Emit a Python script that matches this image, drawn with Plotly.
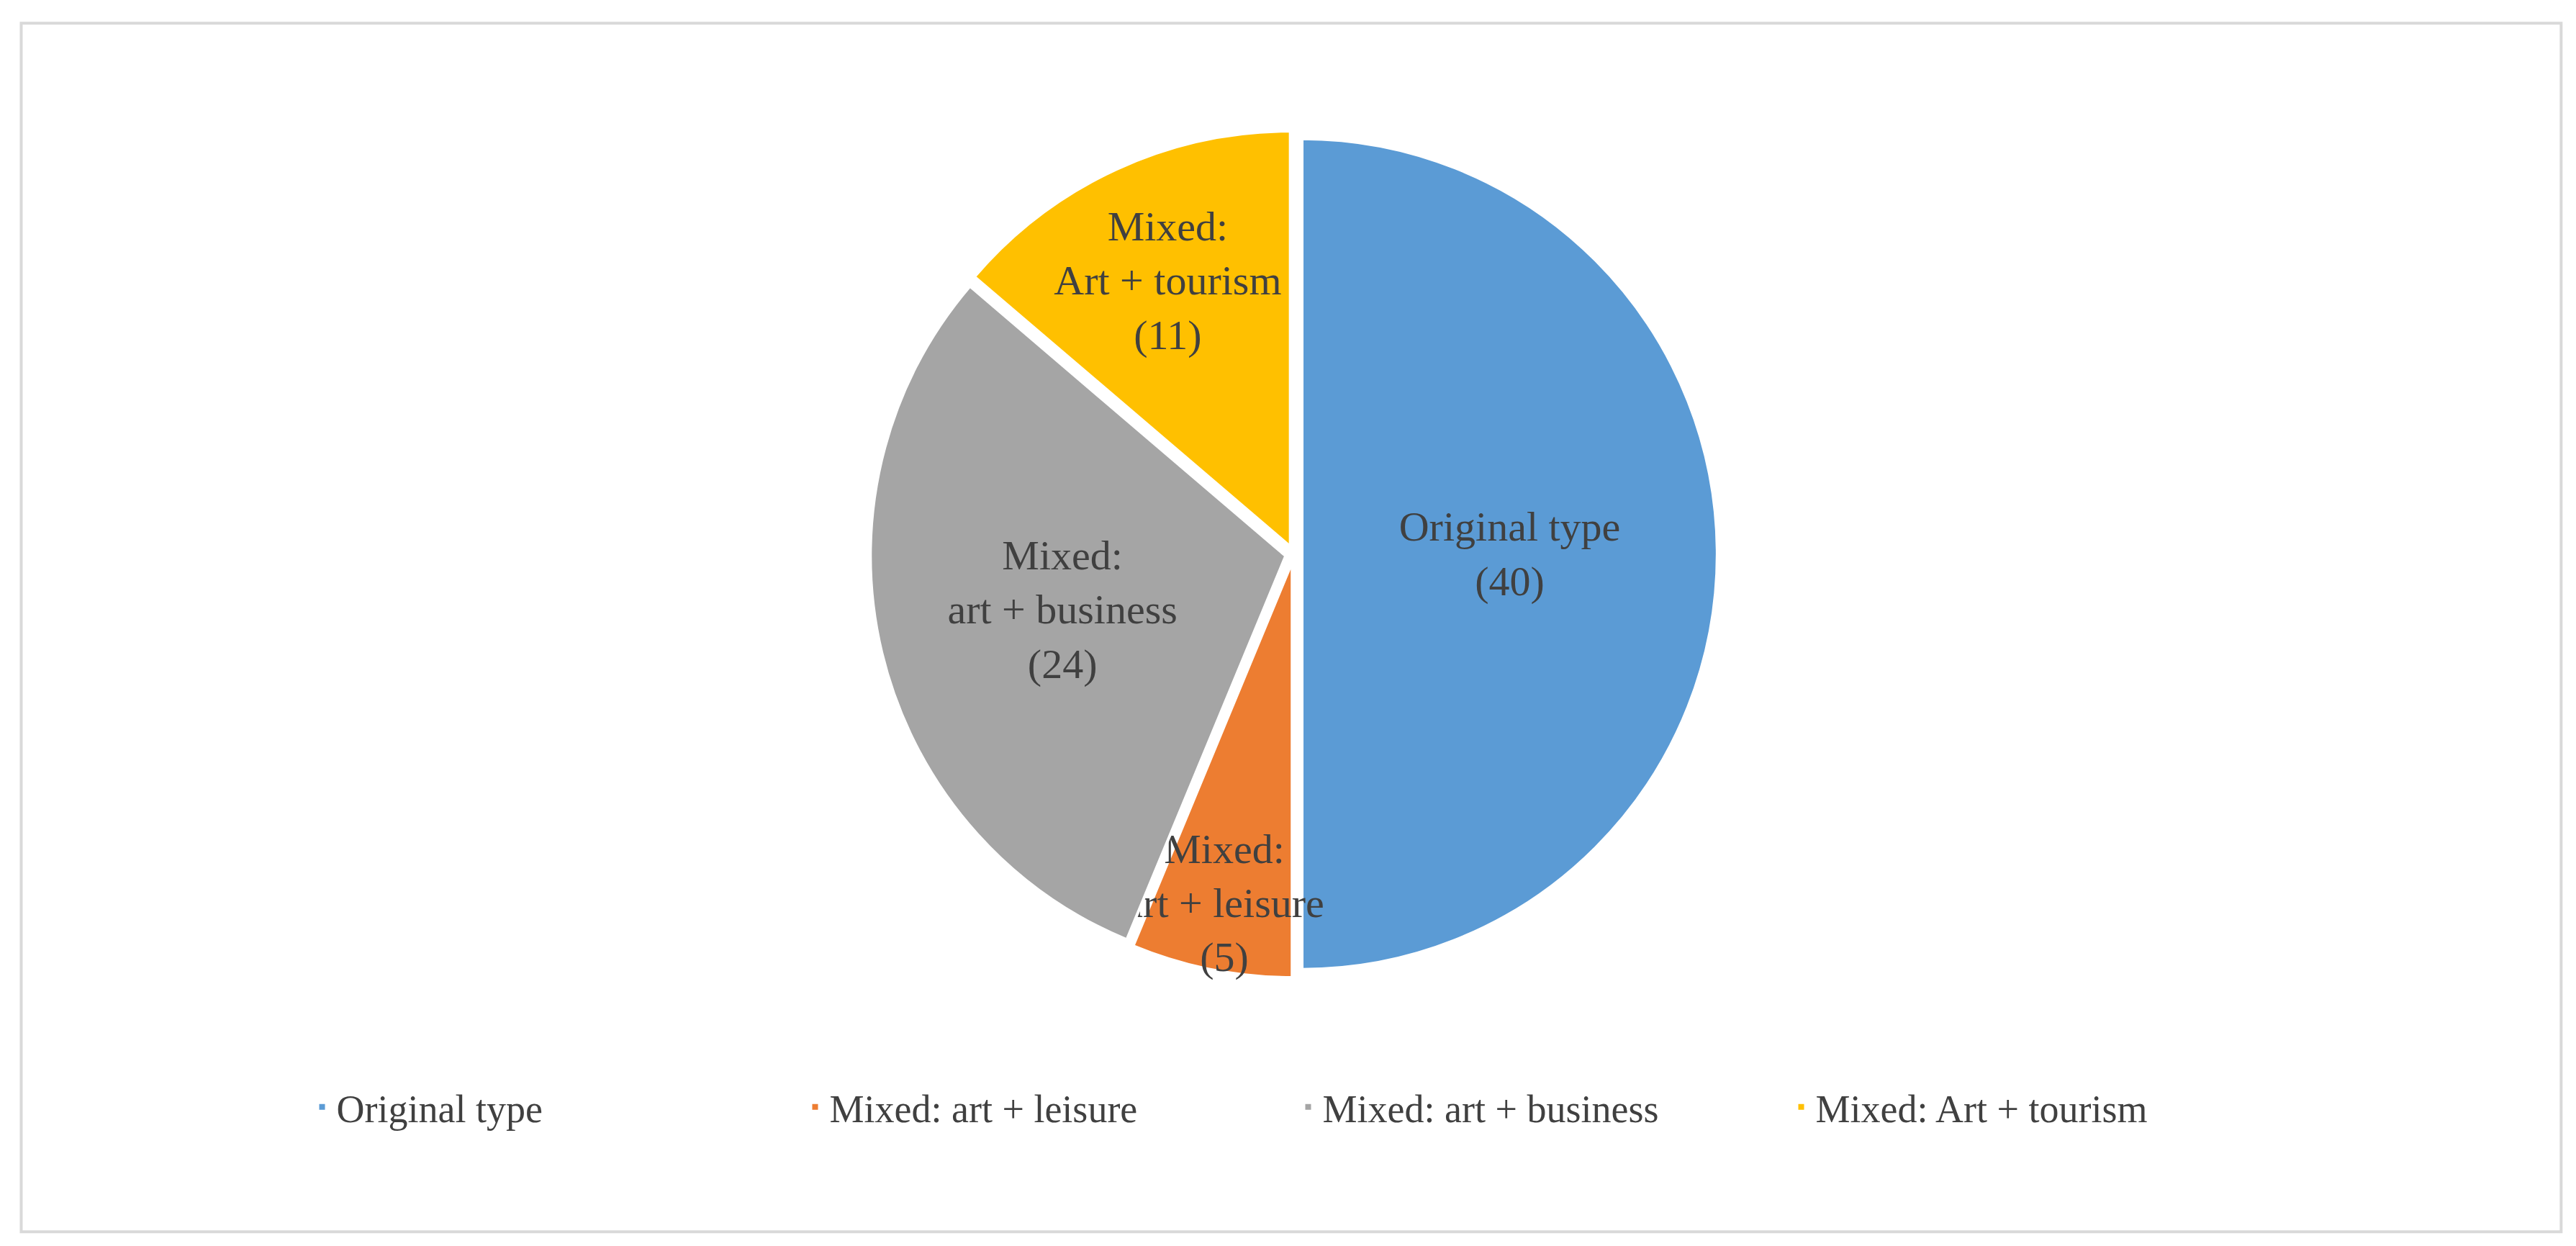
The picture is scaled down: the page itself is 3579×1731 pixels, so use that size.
import plotly.graph_objects as go

labels = ["Original type", "Mixed: art + leisure", "Mixed: art + business", "Mixed: Art + tourism"]
inner_text = ["Original type<br>(40)", "Mixed:<br>art + leisure<br>(5)", "Mixed:<br>art + business<br>(24)", "Mixed:<br>Art + tourism<br>(11)"]
values = [40, 5, 24, 11]
colors = ["#5B9BD5", "#ED7D31", "#A5A5A5", "#FFC000"]

fig = go.Figure(go.Pie(
    labels=labels, values=values, text=inner_text,
    textinfo="text", textposition="inside", insidetextorientation="horizontal",
    sort=False, direction="clockwise", rotation=0,
    pull=[0.02, 0.02, 0.02, 0.02],
    marker=dict(colors=colors, line=dict(color="white", width=4)),
    textfont=dict(family="Liberation Serif", size=58, color="#404040"),
    domain=dict(x=[0.2, 0.8], y=[0.22, 0.9]),
    hoverinfo="label+value",
))
fig.update_layout(
    width=3579, height=1731, paper_bgcolor="white",
    margin=dict(l=0, r=0, t=0, b=0),
    uniformtext=dict(minsize=58, mode="show"),
    legend=dict(orientation="h", x=0.5, xanchor="center", y=0.116, yanchor="middle",
                font=dict(family="Liberation Serif", size=54, color="#404040"),
                entrywidth=640, entrywidthmode="pixels", itemwidth=30),
    shapes=[dict(type="rect", xref="paper", yref="paper", x0=0.006, x1=0.992, y0=0.016, y1=0.986,
                 line=dict(color="#D9D9D9", width=4))],
)
fig.write_html("out.html")
